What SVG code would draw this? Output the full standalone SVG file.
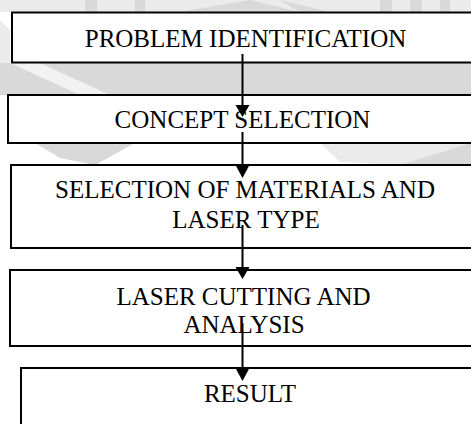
<svg xmlns="http://www.w3.org/2000/svg" width="471" height="424" viewBox="0 0 471 424">
<style>
.box{fill:#fff;stroke:#000;stroke-width:2}
.t{font-family:"Liberation Serif","Times New Roman",serif;font-size:25px;fill:#000;text-anchor:middle}
.wm{fill:#d9d9d9}
.wl{fill:#ebebeb}
.c{stroke:#000;stroke-width:2;fill:none}
.h{fill:#000}
</style>
<g id="watermark">
<rect class="wl" x="0" y="0" width="471" height="12"/>
<rect class="wm" x="85" y="0" width="12" height="12"/>
<rect class="wm" x="135" y="0" width="10" height="12"/>
<polygon class="wm" points="180,12 250,0 300,12"/>
<polygon class="wm" points="280,0 330,12 300,12"/>
<rect class="wm" x="380" y="0" width="12" height="12"/>
<rect class="wm" x="410" y="0" width="12" height="12"/>
<rect class="wm" x="440" y="0" width="10" height="12"/>
<polygon class="wl" points="0,20 10,30 10,95 0,95"/>
<rect class="wm" x="0" y="63" width="471" height="32"/>
<polygon fill="#f2f2f2" points="10,63 40,63 110,95 80,95"/>
<polygon class="wm" points="35,143 135,143 95,165 60,158"/>
<polygon class="wl" points="320,143 471,143 471,150 400,165 340,162"/>
<polygon class="wm" points="400,165 471,143 471,165"/>
</g>
<g id="n1"><rect class="box" x="12" y="12.5" width="470" height="50"/><text class="t" x="245.5" y="47">PROBLEM IDENTIFICATION</text></g>
<g id="n2"><rect class="box" x="8" y="95" width="474" height="48"/><text class="t" x="242.5" y="128">CONCEPT SELECTION</text></g>
<g id="n3"><rect class="box" x="11" y="165" width="471" height="83"/><text class="t" x="245" y="198">SELECTION OF MATERIALS AND</text><text class="t" x="246" y="228">LASER TYPE</text></g>
<g id="n4"><rect class="box" x="10" y="270" width="472" height="76"/><text class="t" x="243.5" y="305">LASER CUTTING AND</text><text class="t" x="244" y="333">ANALYSIS</text></g>
<g id="n5"><rect class="box" x="21" y="368" width="461" height="80"/><text class="t" x="250" y="402">RESULT</text></g>
<g id="connectors">
<line class="c" x1="242.5" y1="54" x2="242.5" y2="106"/><polygon class="h" points="235.5,105 249.5,105 242.5,117"/>
<line class="c" x1="242.5" y1="132" x2="242.5" y2="166"/><polygon class="h" points="235.5,165 249.5,165 242.5,178"/>
<line class="c" x1="242.5" y1="225" x2="242.5" y2="268"/><polygon class="h" points="235.5,267 249.5,267 242.5,279"/>
<line class="c" x1="242.5" y1="323" x2="242.5" y2="369"/><polygon class="h" points="235.5,368 249.5,368 242.5,381"/>
</g>
</svg>
